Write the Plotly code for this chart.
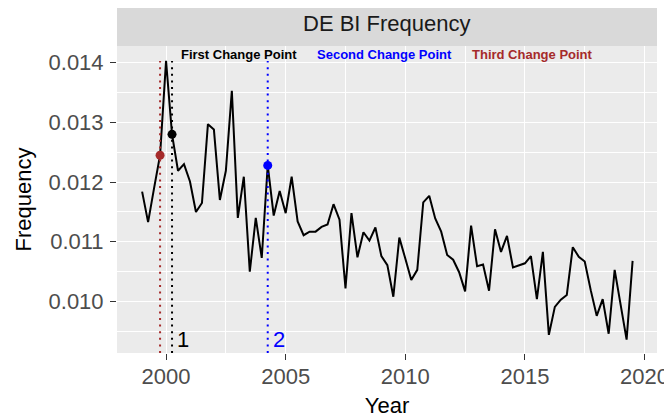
import plotly.graph_objects as go

# quarterly series, 1999 Q1 .. 2019 Q3
quarters = [1999 + q / 4 for q in range(83)]
frequency = [
    0.01184, 0.01133, 0.01190, 0.01245,
    0.01403, 0.01280, 0.01219, 0.01230,
    0.01201, 0.01150, 0.01165, 0.01297,
    0.01288, 0.01170, 0.01219, 0.01353,
    0.01140, 0.01209, 0.01050, 0.01140,
    0.01073, 0.01228, 0.01144, 0.01185,
    0.01148, 0.01209, 0.01134, 0.01111,
    0.01117, 0.01117, 0.01125, 0.01129,
    0.01163, 0.01137, 0.01022, 0.01148,
    0.01074, 0.01116, 0.01102, 0.01124,
    0.01076, 0.01061, 0.01008, 0.01107,
    0.01072, 0.01036, 0.01053, 0.01166,
    0.01177, 0.01139, 0.01117, 0.01078,
    0.01070, 0.01049, 0.01017, 0.01127,
    0.01059, 0.01062, 0.01018, 0.01121,
    0.01083, 0.01110, 0.01057, 0.01060,
    0.01064, 0.01076, 0.01004, 0.01083,
    0.00944, 0.00991, 0.01003, 0.01011,
    0.01091, 0.01075, 0.01067, 0.01019,
    0.00976, 0.01004, 0.00946, 0.01053,
    0.00991, 0.00936, 0.01068,
]

# change points
cp_years = [2000.25, 2004.25, 1999.75]
cp_names = ["First Change Point", "Second Change Point", "Third Change Point"]
cp_colors = ["black", "blue", "#A52A2A"]
cp_numbers = ["1", "2", ""]
name_x = [2003.03, 2009.13, 2015.33]

y_range = [0.009137, 0.01428]
x_range = [1997.95, 2020.52]
FONT = "Liberation Sans, Arial, sans-serif"

fig = go.Figure()

fig.add_trace(go.Scatter(
    x=quarters, y=frequency, mode="lines",
    line=dict(color="black", width=2), showlegend=False, hoverinfo="skip",
))

shapes = []
annotations = []
for cp, name, col, num, nx in zip(cp_years, cp_names, cp_colors, cp_numbers, name_x):
    idx = quarters.index(cp)
    shapes.append(dict(
        type="line", xref="x", yref="y", x0=cp, x1=cp,
        y0=y_range[0], y1=max(frequency),
        line=dict(color=col, width=2, dash="2px,4.6px"), layer="above",
    ))
    fig.add_trace(go.Scatter(
        x=[cp], y=[frequency[idx]], mode="markers",
        marker=dict(color=col, size=9), showlegend=False, hoverinfo="skip",
    ))
    annotations.append(dict(
        x=nx, y=0.971, xref="x", yref="paper", text="<b>" + name + "</b>",
        showarrow=False, font=dict(family=FONT, size=13, color=col),
        xanchor="center", yanchor="middle",
    ))
    if num:
        annotations.append(dict(
            x=cp, y=min(frequency), xref="x", yref="y", text=num,
            showarrow=False, font=dict(family=FONT, size=22, color=col),
            xanchor="left", yanchor="middle", xshift=3,
        ))

# facet strip
shapes.append(dict(
    type="rect", xref="paper", yref="paper", x0=0, x1=1, y0=1.0, y1=1.0 + 45 / 307,
    fillcolor="#D9D9D9", line=dict(width=0), layer="below",
))
annotations.append(dict(
    x=0.5, y=1.0 + 22.5 / 307, xref="paper", yref="paper", text="DE BI Frequency",
    showarrow=False, font=dict(family=FONT, size=22, color="#1A1A1A"),
    xanchor="center", yanchor="middle",
))

# the page body adds an 8px margin, so the figure is 8px smaller and shifted
fig.update_layout(
    width=664, height=410,
    margin=dict(l=109, r=15, t=38, b=65),
    paper_bgcolor="white", plot_bgcolor="#EBEBEB",
    font=dict(family=FONT, size=22, color="#4D4D4D"),
    shapes=shapes, annotations=annotations,
    showlegend=False,
)
fig.update_xaxes(
    range=x_range, tick0=2000, dtick=5, showgrid=True, gridcolor="white", gridwidth=1.1,
    zeroline=False, ticks="outside", ticklen=6, tickcolor="#333333", tickwidth=1.1,
    tickfont=dict(size=22, color="#4D4D4D"), automargin=False,
    ticklabelstandoff=-2, ticklabeloverflow="allow",
    minor=dict(dtick=2.5, showgrid=True, gridcolor="white", gridwidth=0.55),
    title=dict(text="Year", font=dict(size=22, color="black"), standoff=22),
)
fig.update_yaxes(
    range=y_range, tick0=0.010, dtick=0.001, tickformat=".3f",
    showgrid=True, gridcolor="white", gridwidth=1.1,
    zeroline=False, ticks="outside", ticklen=6, tickcolor="#333333", tickwidth=1.1,
    tickfont=dict(size=22, color="#4D4D4D"), automargin=False, ticklabelstandoff=2,
    minor=dict(dtick=0.0005, showgrid=True, gridcolor="white", gridwidth=0.55),
    title=dict(text="Frequency", font=dict(size=22, color="black"), standoff=10),
)

fig.write_html("out.html")
